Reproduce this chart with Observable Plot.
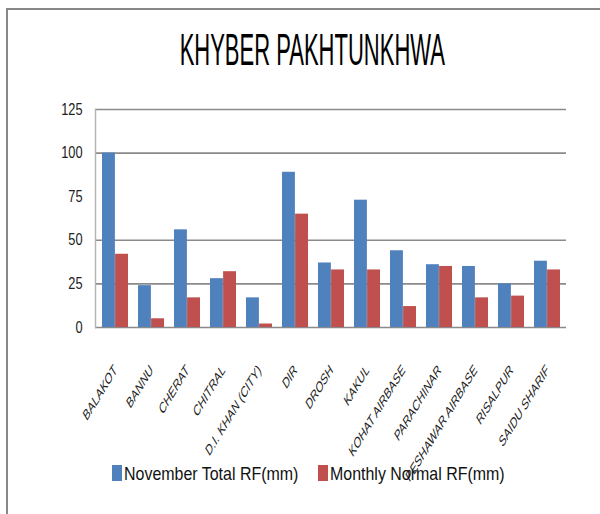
<!DOCTYPE html>
<html>
<head>
<meta charset="utf-8">
<script src="https://cdn.jsdelivr.net/npm/d3@7"></script>
<script src="https://cdn.jsdelivr.net/npm/@observablehq/plot@0.6"></script>
<style>
  html, body { margin: 0; padding: 0; background: #fff; }
  #wrap { position: relative; width: 600px; height: 514px; overflow: hidden; font-family: "Liberation Sans", Arial, sans-serif; }
  #wrap svg { position: absolute; left: 0; top: 0; }
  .bl { position: absolute; background: #888; }
  #title { position: absolute; top: 28px; left: 0; width: 624px; text-align: center; font-size: 44px; line-height: 44px; color: #000; white-space: nowrap; }
  #title span { display: inline-block; transform: scaleX(0.5); transform-origin: center; }
  #legend { position: absolute; top: 464px; left: 0; width: 600px; height: 20px; }
  .item { position: absolute; top: 0; height: 20px; white-space: nowrap; }
  .sw { position: absolute; top: 1px; left: 0; width: 10px; height: 16px; }
  .lt { position: absolute; top: 0; left: 12px; font-size: 19px; line-height: 19px; color: #111; transform: scaleX(0.84); transform-origin: left; }
</style>
</head>
<body>
<div id="wrap">
  <div class="bl" style="left:6px;top:8px;width:2px;height:506px"></div>
  <div class="bl" style="left:6px;top:8px;width:594px;height:2px"></div>
  <div id="title"><span>KHYBER PAKHTUNKHWA</span></div>
  <div id="legend"></div>
</div>
<script>
const stations = ["BALAKOT","BANNU","CHERAT","CHITRAL","D.I. KHAN (CITY)","DIR","DROSH","KAKUL","KOHAT AIRBASE","PARACHINAR","PESHAWAR AIRBASE","RISALPUR","SAIDU SHARIF"];
const novemberTotal = [100, 24, 56, 28, 17, 89, 37, 73, 44, 36, 35, 25, 38];
const monthlyNormal = [42, 5, 17, 32, 2, 65, 33, 33, 12, 35, 17, 18, 33];
const seriesNames = ["November Total RF(mm)", "Monthly Normal RF(mm)"];
const seriesColors = ["#4F81BD", "#C0504D"];
const yTicks = [0, 25, 50, 75, 100, 125];
const gridValues = [0, 25, 50, 100, 125];

const novData = stations.map((s, i) => ({station: s, value: novemberTotal[i]}));
const normData = stations.map((s, i) => ({station: s, value: monthlyNormal[i]}));

const chart = Plot.plot({
  width: 600,
  height: 514,
  marginTop: 109,
  marginBottom: 187,
  marginLeft: 95,
  marginRight: 34,
  style: {fontFamily: "Liberation Sans, Arial, sans-serif", background: "transparent"},
  x: {domain: stations, padding: 0, label: null},
  y: {domain: [0, 125], label: null},
  marks: [
    Plot.ruleY(gridValues, {stroke: "#8a8a8a", strokeWidth: 1.6}),
    Plot.frame({anchor: "left", stroke: "#b5b5b5", strokeWidth: 1.5}),
    Plot.barY(novData, {x: "station", y: "value", fill: seriesColors[0], insetLeft: 5, insetRight: 18.1}),
    Plot.barY(normData, {x: "station", y: "value", fill: seriesColors[1], insetLeft: 18.1, insetRight: 5}),
    Plot.axisY({ticks: yTicks, tickSize: 0, tickPadding: 13, fontSize: 16, fill: "#222", label: null}),
    Plot.axisX({tickSize: 0, tickPadding: 40, tickRotate: -45, fontSize: 15.5, fill: "#222", label: null})
  ]
});
document.getElementById("wrap").insertBefore(chart, document.getElementById("title"));

// squeeze text horizontally to mimic the condensed reference
d3.select(chart).selectAll('g[aria-label="x-axis tick label"] text').each(function() {
  const t = this.getAttribute("transform") || "";
  this.setAttribute("transform", t.replace("rotate(", "scale(0.61,1) rotate("));
});
d3.select(chart).selectAll('g[aria-label="y-axis tick label"] text').each(function() {
  const t = this.getAttribute("transform") || "";
  this.setAttribute("transform", t + " scale(0.8,1)");
});

// legend
const lg = d3.select("#legend");
const legendX = [112, 318];
seriesNames.forEach((name, i) => {
  const it = lg.append("div").attr("class", "item").style("left", legendX[i] + "px");
  it.append("div").attr("class", "sw").style("background", seriesColors[i]);
  it.append("div").attr("class", "lt").text(name);
});
</script>
</body>
</html>
